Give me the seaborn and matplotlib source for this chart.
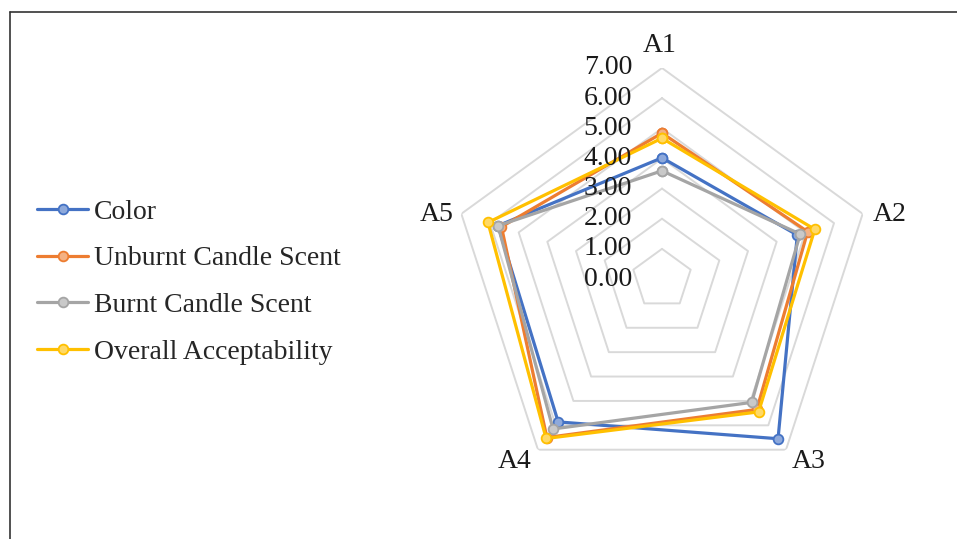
import numpy as np
import matplotlib
matplotlib.use("Agg")
import matplotlib.pyplot as plt
import matplotlib.transforms as mtransforms
from matplotlib.lines import Line2D
import seaborn as sns

categories = ["A1", "A2", "A3", "A4", "A5"]
series_names = ["Color", "Unburnt Candle Scent", "Burnt Candle Scent", "Overall Acceptability"]
color_vals = [4.02, 4.72, 6.55, 5.86, 5.72]
unburnt_vals = [4.84, 5.08, 5.35, 6.50, 5.60]
burnt_vals = [3.59, 4.82, 5.06, 6.15, 5.72]
overall_vals = [4.67, 5.33, 5.45, 6.54, 6.07]
tick_values = [0, 1, 2, 3, 4, 5, 6, 7]
tick_labels = ["0.00", "1.00", "2.00", "3.00", "4.00", "5.00", "6.00", "7.00"]

line_colors = ["#4472C4", "#ED7D31", "#A5A5A5", "#FFC000"]
fill_colors = ["#8EA9DB", "#F4B183", "#C9C9C9", "#FFD966"]

sns.set_theme(style="white")
plt.rcParams["font.family"] = ["Liberation Serif", "DejaVu Serif"]

W, H = 957, 539
fig = plt.figure(figsize=(W / 100, H / 100), dpi=100)
cx, cy, R = 662, 279, 211
ax = fig.add_axes([(cx - R) / W, (H - cy - R) / H, 2 * R / W, 2 * R / H], projection="polar")
ax.set_theta_offset(np.pi / 2)
ax.set_theta_direction(-1)
ax.set_ylim(0, 7)
ax.grid(False)
ax.spines["polar"].set_visible(False)
ax.set_xticks([])
ax.set_yticks([])
ax.patch.set_alpha(0)

n = len(categories)
angles = np.linspace(0, 2 * np.pi, n, endpoint=False)
ang_closed = np.concatenate([angles, angles[:1]])

# pentagon gridlines
for r in tick_values[1:]:
    ax.plot(ang_closed, [r] * (n + 1), color="#D9D9D9", lw=1.4, zorder=1)

# tick labels
offset = mtransforms.ScaledTranslation(-30 / 100, 0, fig.dpi_scale_trans)
for v, lab in zip(tick_values, tick_labels):
    ax.text(0, v, lab, transform=ax.transData + offset, ha="right", va="center",
            fontsize=20, color="#1a1a1a", zorder=5)

# category labels, offset in pixels from the outer vertex
lab_off = [(-2, 22), (27, -1), (23, -12), (-23, -12), (-25, -1)]
for a, c, (dx, dy) in zip(angles, categories, lab_off):
    tr = ax.transData + mtransforms.ScaledTranslation(dx / 100, dy / 100, fig.dpi_scale_trans)
    ax.text(a, 7, c, transform=tr, ha="center", va="center", fontsize=20, color="#1a1a1a")

all_vals = [color_vals, unburnt_vals, burnt_vals, overall_vals]
handles = []
for i, (name, vals) in enumerate(zip(series_names, all_vals)):
    v = list(vals) + [vals[0]]
    h, = ax.plot(ang_closed, v, color=line_colors[i], lw=2.3, marker="o", markersize=7,
                 markerfacecolor=fill_colors[i], markeredgecolor=line_colors[i],
                 markeredgewidth=1.3, label=name, zorder=3 + i * 0.1, clip_on=False)
    handles.append(h)

leg = fig.legend(handles=handles, loc="center left", bbox_to_anchor=(37 / W, 1 - 282 / H),
                 frameon=False, fontsize=20, handlelength=1.85, handletextpad=0.2,
                 labelspacing=0.76, borderaxespad=0, borderpad=0)

# figure border (left and top)
fig.add_artist(Line2D([9.5 / W, 9.5 / W], [0, 1 - 12 / H], transform=fig.transFigure,
                      color="#333333", lw=1.2))
fig.add_artist(Line2D([9.5 / W, 1], [1 - 12 / H, 1 - 12 / H], transform=fig.transFigure,
                      color="#333333", lw=1.2))

fig.savefig("out.png", dpi=100)
